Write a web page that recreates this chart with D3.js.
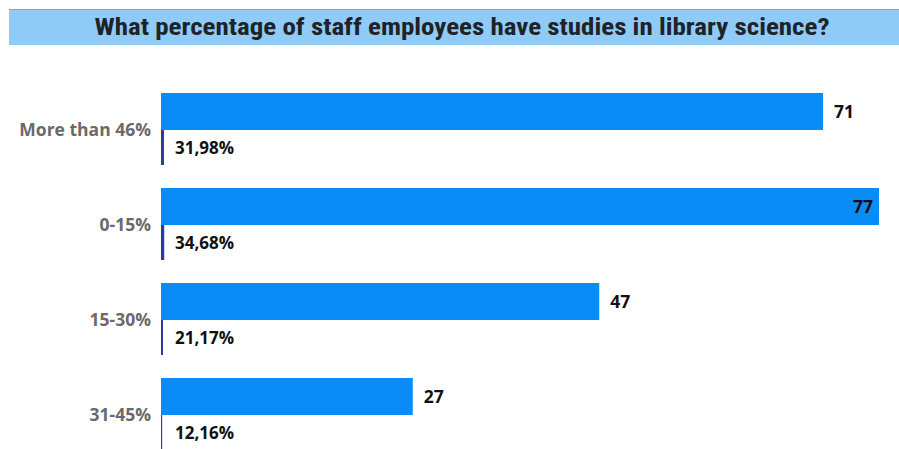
<!DOCTYPE html>
<html>
<head>
<meta charset="utf-8">
<script src="https://cdn.jsdelivr.net/npm/d3@7/dist/d3.min.js"></script>
<style>
  html, body { margin: 0; padding: 0; background: #fff; }
  svg { display: block; }
</style>
</head>
<body>
<svg id="chart" width="899" height="449"></svg>
<script>
// Survey answers: number of respondents and share of the total
const categories = ["More than 46%", "0-15%", "15-30%", "31-45%"];
const counts = [71, 77, 47, 27];
const shares = [0.3198, 0.3468, 0.2117, 0.1216];
const shareLabels = ["31,98%", "34,68%", "21,17%", "12,16%"];
const title = "What percentage of staff employees have studies in library science?";

const svg = d3.select("#chart");
const W = 899, H = 449;
const left = 161;

// Title banner
svg.append("rect")
  .attr("x", 9).attr("y", 9).attr("width", W - 9).attr("height", 36)
  .attr("fill", "#8fcbf6");
svg.append("line")
  .attr("x1", 9).attr("x2", W).attr("y1", 9.5).attr("y2", 9.5)
  .attr("stroke", "#8fa4b4").attr("stroke-width", 1);
svg.append("text")
  .attr("x", 462).attr("y", 35)
  .attr("text-anchor", "middle")
  .attr("font-family", "'Liberation Sans Narrow', 'Roboto Condensed', Roboto, sans-serif")
  .attr("font-weight", "bold")
  .attr("font-size", 23)
  .attr("fill", "#1f2328")
  .attr("textLength", 735)
  .attr("lengthAdjust", "spacingAndGlyphs")
  .text(title);

const x = d3.scaleLinear().domain([0, 77]).range([left, 879]);
const y = d3.scaleBand().domain(categories).range([93, 473]).paddingInner(0).paddingOuter(0);
const barH = 37;

const g = svg.append("g");

// Count bars
g.selectAll("rect.count").data(categories).join("rect")
  .attr("class", "count")
  .attr("x", x(0))
  .attr("y", d => y(d))
  .attr("width", (d, i) => x(counts[i]) - x(0))
  .attr("height", barH)
  .attr("fill", "#0a8cf7");

// Share bars (fractions on the same axis, so they stay hairline thin)
g.selectAll("rect.share").data(categories).join("rect")
  .attr("class", "share")
  .attr("x", x(0))
  .attr("y", d => y(d) + barH)
  .attr("width", (d, i) => Math.max(1, x(shares[i]) - x(0)))
  .attr("height", 35)
  .attr("fill", "#2d3a9e");

// Count labels
g.selectAll("text.count").data(categories).join("text")
  .attr("class", "count")
  .attr("x", (d, i) => counts[i] === d3.max(counts) ? x(counts[i]) - 6 : x(counts[i]) + 11)
  .attr("text-anchor", (d, i) => counts[i] === d3.max(counts) ? "end" : "start")
  .attr("y", d => y(d) + barH / 2 + 6)
  .attr("font-family", "'Open Sans', 'Liberation Sans', sans-serif")
  .attr("font-weight", "bold")
  .attr("font-size", 17.5)
  .attr("fill", "#111")
  .text((d, i) => counts[i]);

// Share labels
g.selectAll("text.share").data(categories).join("text")
  .attr("class", "share")
  .attr("x", x(0) + 14)
  .attr("y", d => y(d) + barH + 24)
  .attr("font-family", "'Open Sans', 'Liberation Sans', sans-serif")
  .attr("font-weight", "bold")
  .attr("font-size", 17)
  .attr("fill", "#111")
  .text((d, i) => shareLabels[i]);

// Category axis labels
g.selectAll("text.cat").data(categories).join("text")
  .attr("class", "cat")
  .attr("x", 151)
  .attr("y", d => y(d) + barH + 6)
  .attr("text-anchor", "end")
  .attr("font-family", "'Open Sans', 'Liberation Sans', sans-serif")
  .attr("font-weight", "bold")
  .attr("font-size", 17.5)
  .attr("fill", "#6a6a6a")
  .text(d => d);
</script>
</body>
</html>
